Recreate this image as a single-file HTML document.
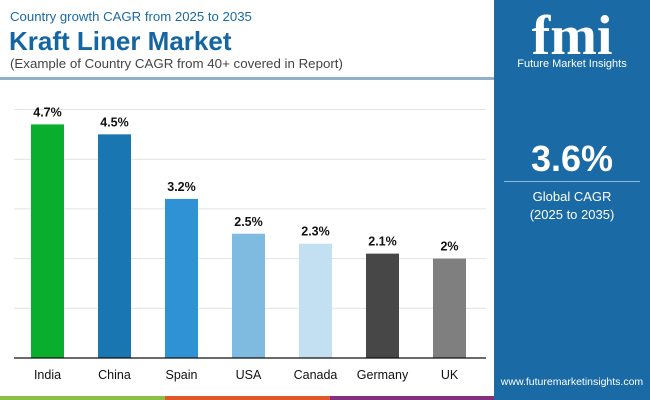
<!DOCTYPE html>
<html><head><meta charset="utf-8"><style>
body{margin:0;width:650px;height:400px;overflow:hidden;font-family:"Liberation Sans",sans-serif;background:#fff;position:relative}
.abs{position:absolute}
</style></head><body>
<div class="abs" style="left:10px;top:9px;font-size:13.2px;color:#1a6aa6">Country growth CAGR from 2025 to 2035</div>
<div class="abs" style="left:9px;top:26px;font-size:26px;font-weight:bold;color:#1466a2">Kraft Liner Market</div>
<div class="abs" style="left:10px;top:56px;font-size:13.3px;color:#444">(Example of Country CAGR from 40+ covered in Report)</div>
<div class="abs" style="left:0;top:77px;width:494px;height:3px;background:#8fb0c8"></div>
<div class="abs" style="left:494px;top:0;width:156px;height:400px;background:#1a6aa6">
 <div style="position:absolute;left:22px;top:8px;width:112px;text-align:center;color:#fff;font-size:56px;font-weight:bold;font-family:'Liberation Serif',serif;line-height:56px">fmi</div>
 <div style="position:absolute;left:0;top:58px;width:156px;text-align:center;color:#fff;font-size:11px">Future Market Insights</div>
 <div style="position:absolute;left:0;top:138px;width:156px;text-align:center;color:#fff;font-size:36px;font-weight:bold">3.6%</div>
 <div style="position:absolute;left:10px;top:181px;width:136px;height:1px;background:#8fb8d8"></div>
 <div style="position:absolute;left:0;top:188px;width:156px;text-align:center;color:#fff;font-size:13px;line-height:18px">Global CAGR<br>(2025 to 2035)</div>
 <div style="position:absolute;left:0;top:376px;width:156px;text-align:center;color:#fff;font-size:10.5px">www.futuremarketinsights.com</div>
</div>
<div class="abs" style="left:0;top:396px;width:165px;height:4px;background:#8bbf45"></div>
<div class="abs" style="left:165px;top:396px;width:165px;height:4px;background:#e0582a"></div>
<div class="abs" style="left:330px;top:396px;width:164px;height:4px;background:#84307f"></div>
<svg class="abs" style="left:0;top:0" width="494" height="396" id="chart"></svg>
<script>
const categories=["India","China","Spain","USA","Canada","Germany","UK"];
const values=[4.7,4.5,3.2,2.5,2.3,2.1,2.0];
const valueLabels=["4.7%","4.5%","3.2%","2.5%","2.3%","2.1%","2%"];
const colors=["#0aae2e","#1a76b0","#2f92d4","#7fbae0","#c2e0f2","#474747","#7f7f7f"];
const gridTicks=[1,2,3,4,5];
const svg=document.getElementById('chart');
const NS='http://www.w3.org/2000/svg';
const y0=358,pxPer=49.7;
const yS=v=>y0-v*pxPer;
const xS=i=>47.5+i*67;
function mk(t,a){const e=document.createElementNS(NS,t);for(const k in a)e.setAttribute(k,a[k]);svg.appendChild(e);return e;}
gridTicks.forEach(t=>{const g=mk('line',{x1:14,x2:486,y1:yS(t),y2:yS(t),stroke:'#e2e2e2','stroke-width':1});

});
categories.forEach((c,i)=>{
 const r=mk('rect',{x:xS(i)-16.5,y:yS(values[i]),width:33,height:values[i]*pxPer,fill:colors[i]});
 
 
 const v=mk('text',{x:xS(i),y:yS(values[i])-8,'text-anchor':'middle','font-size':12.5,'font-weight':'bold',fill:'#111'});v.textContent=valueLabels[i];
 
 
 const l=mk('text',{x:xS(i),y:379,'text-anchor':'middle','font-size':12.5,fill:'#111'});l.textContent=c;
 
 
});
const ax=mk('line',{x1:14,x2:486,y1:y0,y2:y0,stroke:'#111','stroke-width':1.2});


</script>
</body></html>
